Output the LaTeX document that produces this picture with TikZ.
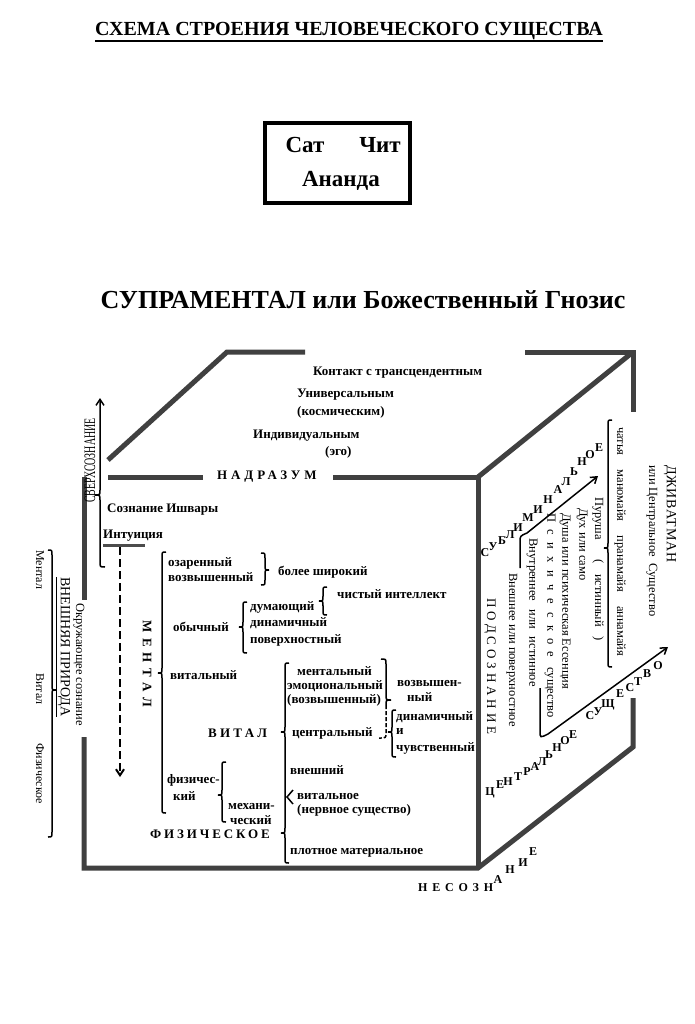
\documentclass[tikz,border=0pt]{standalone}
\usepackage{fontspec}
\setmainfont{Liberation Serif}
\usetikzlibrary{arrows.meta}
\newcommand\brL[4]{\draw[brc] ({#1+4},#2) .. controls (#1,#2) .. (#1,{#2+5}) -- (#1,{#4-5}) .. controls (#1,#4) .. ({#1-4},#4) .. controls (#1,#4) .. (#1,{#4+5}) -- (#1,{#3-5}) .. controls (#1,#3) .. ({#1+4},#3);}
\newcommand\brR[4]{\draw[brc] ({#1-4},#2) .. controls (#1,#2) .. (#1,{#2+5}) -- (#1,{#4-5}) .. controls (#1,#4) .. ({#1+4},#4) .. controls (#1,#4) .. (#1,{#4+5}) -- (#1,{#3-5}) .. controls (#1,#3) .. ({#1-4},#3);}
\newcommand\LSp[2]{{\addfontfeature{LetterSpace=#1}#2}}
\begin{document}
\begin{tikzpicture}[x=1pt,y=-1pt,
  edge/.style={line width=5pt, draw=black!75, line join=miter},
  brc/.style={line width=1.5pt, draw=black},
  arr/.style={line width=1.5pt, draw=black, -{Straight Barb[length=6pt,width=8pt]}},
  bt/.style={font=\bfseries\fontsize{13}{14}\selectfont, inner sep=0pt, anchor=west},
  rg/.style={font=\fontsize{12.5}{14}\selectfont, inner sep=0pt, anchor=west, rotate=-90},
  lt/.style={font=\bfseries\fontsize{12}{13}\selectfont, inner sep=0pt}]
\useasboundingbox (0,0) rectangle (695,1024);
\fill[white] (0,0) rectangle (695,1024);

% header
\node[font=\bfseries\fontsize{20}{22}\selectfont, inner sep=0pt] (title) at (349,31) {СХЕМА СТРОЕНИЯ ЧЕЛОВЕЧЕСКОГО СУЩЕСТВА};
\draw[line width=1.5pt] (95,41) -- (603,41);
\node[draw, line width=3.5pt, minimum width=145pt, minimum height=80pt, inner sep=0pt] (box) at (337.5,163) {};
\node[font=\bfseries\fontsize{23}{25}\selectfont, inner sep=0pt] (sat) at (305,145) {Сат};
\node[font=\bfseries\fontsize{23}{25}\selectfont, inner sep=0pt] (chit) at (380,145) {Чит};
\node[font=\bfseries\fontsize{23}{25}\selectfont, inner sep=0pt] (ananda) at (341,181) {Ананда};
\node[font=\bfseries\fontsize{26}{28}\selectfont, inner sep=0pt] (supra) at (363,300) {СУПРАМЕНТАЛ или Божественный Гнозис};

% cube edges
\draw[edge] (108,460) -- (227,352) -- (305,352);
\draw[edge] (525,352) -- (633,352) -- (633,412);
\draw[edge] (108,477) -- (203,477);
\draw[edge] (333,477) -- (478,477) -- (478,868);
\draw[edge] (478,477) -- (633,352);
\draw[edge] (84,477) -- (84,600);
\draw[edge] (84,737) -- (84,868) -- (478,868) -- (633,747) -- (633,698);

% top texts
\node[bt] (kont) at (313,373) {Контакт с трансцендентным};
\node[bt] (univ) at (297,395) {Универсальным};
\node[bt] (kosm) at (297,412) {(космическим)};
\node[bt] (indiv) at (253,436) {Индивидуальным};
\node[bt] (ego) at (325,452) {(эго)};
\node[bt] (nadr) at (217,477) {\LSp{30}{НАДРАЗУМ}};
\node[bt] (ishv) at (107,510) {Сознание Ишвары};
\node[bt] (intu) at (103,536) {Интуиция};
\draw[line width=3pt, draw=black!70] (103,545) -- (145,545);
\draw[line width=2pt, dashed, dash pattern=on 8pt off 4pt, -{Straight Barb[length=6pt,width=8pt]}] (120,547) -- (120,777);

% supraconscious arrow with brace
\draw[brc, -{Straight Barb[length=6pt,width=8pt]}] (105,567) .. controls (100,567) .. (100,562) -- (100,500) .. controls (100,495) .. (95,495) .. controls (100,495) .. (100,490) -- (100,398);
\node[font=\fontsize{16}{17}\selectfont, inner sep=0pt, anchor=west, rotate=90] (sverh) at (90,503) {\scalebox{0.62}[1]{СВЕРХСОЗНАНИЕ}};

% left outer labels
\node[rg, font=\fontsize{12}{13}\selectfont] (lment) at (40,550) {Ментал};
\node[rg, font=\fontsize{12}{13}\selectfont] (lvit) at (40,673) {Витал};
\node[rg, font=\fontsize{12}{13}\selectfont] (lfiz) at (40,743) {Физическое};
\brR{52}{550}{837}{690}
\node[rg, font=\fontsize{14}{15}\selectfont] (vnesh) at (63,577) {\underline{ВНЕШНЯЯ ПРИРОДА}};
\node[rg] (okr) at (79,603) {Окружающее сознание};

% mental
\node[rg, font=\bfseries\fontsize{13}{14}\selectfont] (mental) at (147,620) {\LSp{45}{МЕНТАЛ}};
\brL{162}{552}{813}{673}
\node[bt] (ozar) at (168,563) {озаренный};
\node[bt] (vozv) at (168,577) {возвышенный};
\brR{265}{553}{585}{570}
\node[bt] (shir) at (278,572) {более широкий};
\node[bt] (obych) at (173,627) {обычный};
\brL{243}{602}{653}{627}
\node[bt] (dum) at (250,607) {думающий};
\node[bt] (dinm) at (250,623) {динамичный};
\node[bt] (pov) at (250,640) {поверхностный};
\brL{323}{587}{615}{601}
\node[bt] (chist) at (337,594) {чистый интеллект};
\node[bt] (vitm) at (170,675) {витальный};

% vital
\node[bt] (vital) at (208,733) {\LSp{25}{ВИТАЛ}};
\draw[brc] (289,663) .. controls (285,663) .. (285,668) -- (285,727) .. controls (285,732) .. (281,732) .. controls (285,732) .. (285,737) -- (285,828) .. controls (285,833) .. (281,833) .. controls (285,833) .. (285,838) -- (285,858) .. controls (285,863) .. (289,863);
\draw[brc] (293,790) -- (287,797) -- (293,804);
\node[bt] (vment) at (297,671) {ментальный};
\node[bt] (vemo) at (287,686) {эмоциональный};
\node[bt] (vvozv) at (287,700) {(возвышенный)};
\draw[brc] (381,659) .. controls (386,659) .. (386,664) -- (386,695) .. controls (386,700) .. (391,700) .. controls (386,700) .. (386,705);
\draw[brc, dashed, dash pattern=on 4pt off 2pt] (386,705) -- (386,733) .. controls (386,738) .. (379,738);
\node[bt] (vozv2) at (397,683) {возвышен-};
\node[bt] (nyi) at (407,697) {ный};
\node[bt] (centr) at (292,733) {центральный};
\brL{392}{710}{757}{732}
\node[bt] (dinam2) at (396,717) {динамичный};
\node[bt] (i) at (396,732) {и};
\node[bt] (chuv) at (396,748) {чувственный};
\node[bt] (vnesh2) at (290,770) {внешний};
\node[bt] (fizich) at (167,780) {физичес-};
\node[bt] (kiy) at (173,796) {кий};
\brL{222}{762}{822}{795}
\node[bt] (mehan) at (228,806) {механи-};
\node[bt] (chesk) at (230,820) {ческий};
\node[bt] (vitalnoe) at (297,796) {витальное};
\node[bt] (nerv) at (297,810) {(нервное существо)};
\node[bt] (fiz) at (150,834) {\LSp{22}{ФИЗИЧЕСКОЕ}};
\node[bt] (plot) at (290,853) {плотное материальное};

% right column
\node[rg, font=\fontsize{14}{15}\selectfont] (jiv) at (670,465) {\LSp{6}{ДЖИВАТМАН}};
\node[rg] (central) at (652,465) {или Центральное\hspace{3pt} Существо};
\node[rg] (chaitya) at (620,427) {чатья\hspace{14pt}маномайя\hspace{14pt}пранамайя\hspace{14pt}аннамайя};
\brL{608}{420}{667}{548}
\node[rg] (purusha) at (598,497) {Пуруша\hspace{20pt}(\hspace{10pt}истинный\hspace{10pt})};
\node[rg] (duh) at (582,508) {Дух или само};
\node[rg] (dusha) at (565,513) {Душа или психическая Ессенция};
\node[rg] (psych) at (550,513) {\LSp{60}{Психическое}\hspace{10pt}существо};
\node[rg] (vnutr) at (532,538) {Внутреннее\hspace{8pt}или\hspace{8pt}истинное};
\node[rg] (vneshn) at (512,573) {Внешнее или поверхностное};
\node[rg, font=\fontsize{13}{14}\selectfont] (podsoz) at (490,598) {\LSp{30}{ПОДСОЗНАНИЕ}};

% rising arrows
\draw[arr] (520,568) -- (520,542) .. controls (520,536) .. (527,533) -- (598,476);
\draw[arr] (540,688) -- (540,731) .. controls (540,738) .. (548,734) -- (668,647);

% staircase letters
\foreach \c/\x/\y [count=\i] in {С/485/553,У/493/547,Б/502/541,Л/510/535,И/518/528,М/528/518,И/538/510,Н/548/500,А/558/490,Л/566/482,Ь/574/472,Н/582/462,О/590/455,Е/599/448}
  \node[lt] (sub\i) at (\x,\y) {\c};
\foreach \c/\x/\y [count=\i] in {Ц/490/793,Е/500/785,Н/508/782,Т/518/777,Р/527/772,А/535/767,Л/542/762,Ь/549/755,Н/557/748,О/565/741,Е/573/735}
  \node[lt] (cen\i) at (\x,\y) {\c};
\foreach \c/\x/\y [count=\i] in {С/590/716,У/598/712,Щ/608/705,Е/620/694,С/630/688,Т/638/682,В/647/674,О/658/666}
  \node[lt] (sus\i) at (\x,\y) {\c};
\node[lt, anchor=west] (nesozn) at (418,888) {\LSp{40}{НЕСОЗН}};
\foreach \c/\x/\y [count=\i] in {А/498/880,Н/510/870,И/523/863,Е/533/852}
  \node[lt] (nie\i) at (\x,\y) {\c};
\end{tikzpicture}
\end{document}
